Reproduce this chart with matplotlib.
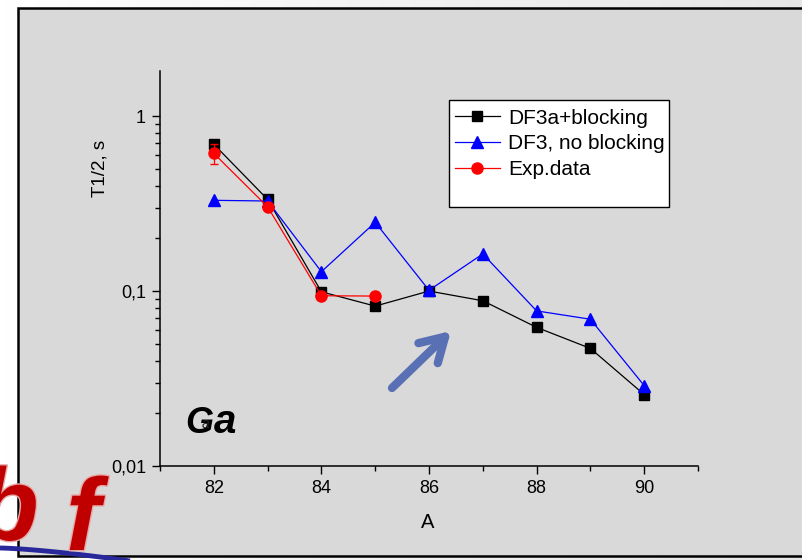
import matplotlib
matplotlib.use('Agg')
import matplotlib.pyplot as plt
import matplotlib.patheffects as pe
import numpy as np
from matplotlib.patches import Rectangle, FancyArrowPatch
from matplotlib.ticker import LogLocator, MultipleLocator, NullFormatter

plt.rcParams['font.family'] = ['Liberation Sans', 'DejaVu Sans']

# half-lives of Ga isotopes (s) versus mass number A
A_calc = [82, 83, 84, 85, 86, 87, 88, 89, 90]
t_df3a_blocking = [0.69, 0.334, 0.099, 0.082, 0.1, 0.088, 0.062, 0.047, 0.0256]
t_df3_noblocking = [0.33, 0.327, 0.129, 0.247, 0.101, 0.163, 0.077, 0.069, 0.0288]

A_exp = [82, 83, 84, 85]
t_exp = [0.612, 0.303, 0.094, 0.0936]
t_exp_err = [0.08, 0.01, 0.004, 0.005]

labels = ['DF3a+blocking', 'DF3, no blocking', 'Exp.data']
xticks = [82, 84, 86, 88, 90]
yticks = [0.01, 0.1, 1]
yticklabels = ['0,01', '0,1', '1']

W, H = 803, 560
fig = plt.figure(figsize=(W / 100, H / 100), dpi=100)
fig.patch.set_facecolor('white')


def fx(x):
    return x / W


def fy(y):
    return 1 - y / H


# slide background in pixel coordinates
bg = fig.add_axes([0, 0, 1, 1], zorder=-10)
grad = np.linspace(1.0, 0.9, 256)[None, :]
bg.imshow(np.dstack([grad] * 3), extent=(0, W, H, 0), aspect='auto')
bg.set_xlim(0, W)
bg.set_ylim(H, 0)
bg.axis('off')
bg.add_patch(Rectangle((18, 7.5), W, 548.5, facecolor='#d9d9d9',
                       edgecolor='black', lw=1.8, zorder=1))
# legend frame
bg.add_patch(Rectangle((449, 100), 220, 107, facecolor='white',
                       edgecolor='black', lw=1.0, zorder=2))
# arrow
bg.add_patch(FancyArrowPatch(posA=(392, 388), posB=(451, 331),
                             arrowstyle='->,head_length=17,head_width=10',
                             mutation_scale=1, color='#5a70b4', lw=6,
                             capstyle='round', joinstyle='round',
                             shrinkA=0, shrinkB=0, zorder=3))
# blue swoosh under the logo
sx = np.linspace(0, 130, 40)
bg.plot(sx, 548 + 13 * (sx / 130) ** 1.4, color='#28289a', lw=3.5,
        solid_capstyle='butt', zorder=4)

ax = fig.add_axes([fx(160), fy(466), fx(698) - fx(160), fy(71) - fy(466)])
ax.patch.set_visible(False)
ax.set_yscale('log')

h1, = ax.plot(A_calc, t_df3a_blocking, color='black', lw=0.9,
              marker='s', ms=7)
h2, = ax.plot(A_calc, t_df3_noblocking, color='#0000ff', lw=0.9,
              marker='^', ms=9)
eb = ax.errorbar(A_exp, t_exp, yerr=t_exp_err, color='red', lw=0.9,
                 marker='o', ms=8, capsize=3, elinewidth=0.9)

ax.set_xlim(81, 91)
ax.set_ylim(0.01, 1.81)
ax.set_xticks(xticks)
ax.xaxis.set_minor_locator(MultipleLocator(1))
ax.set_yticks(yticks)
ax.set_yticklabels(yticklabels)
ax.yaxis.set_minor_locator(LogLocator(base=10, subs=np.arange(2, 10)))
ax.yaxis.set_minor_formatter(NullFormatter())
ax.tick_params(which='major', direction='out', length=6, width=1,
               labelsize=13, pad=4)
ax.tick_params(which='minor', direction='out', length=3.5, width=1)
for side in ['top', 'right']:
    ax.spines[side].set_visible(False)
for side in ['left', 'bottom']:
    ax.spines[side].set_linewidth(1.1)

ax.legend([h1, h2, eb.lines[0]], labels, loc='upper left',
          bbox_to_anchor=(fx(455), fy(108.5)), bbox_transform=fig.transFigure,
          frameon=False, fontsize=15, borderpad=0, borderaxespad=0,
          handlelength=2.16, handletextpad=0.38, labelspacing=0.33)

fig.text(fx(428), fy(522), 'A', ha='center', va='center', fontsize=14.5)
fig.text(fx(100), fy(168), 'T1/2, s', rotation=90, ha='center',
         va='center', fontsize=13.5)

# element label
fig.text(fx(185), fy(433), 'G', fontsize=26, fontweight='bold',
         style='italic', ha='left', va='baseline')
fig.text(fx(202), fy(428), 'a', fontsize=10, style='italic',
         color='#222222', ha='left', va='baseline')
fig.text(fx(214), fy(433), 'a', fontsize=29, fontweight='bold',
         style='italic', ha='left', va='baseline')

# logo letters
halo = [pe.withStroke(linewidth=2, foreground='#e8a8a8')]
fig.text(fx(-24), fy(540), 'b', fontsize=74, fontweight='bold',
         style='italic', color='#c00000', ha='left', va='baseline',
         path_effects=halo)
fig.text(fx(66), fy(550), 'f', fontsize=74, fontweight='bold',
         style='italic', color='#c00000', ha='left', va='baseline',
         path_effects=halo)

fig.savefig('out.png', dpi=100)
